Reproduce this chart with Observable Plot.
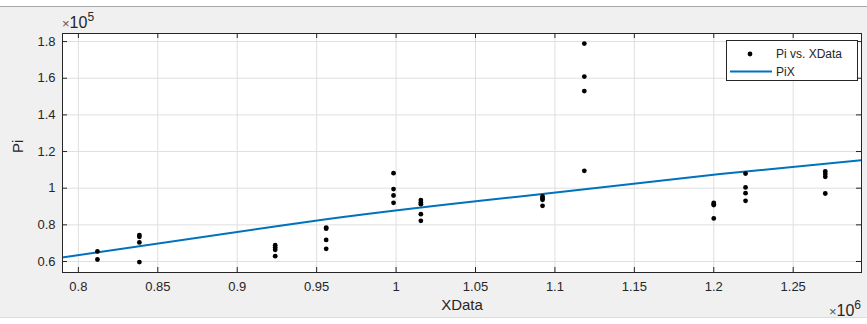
<!DOCTYPE html>
<html><head><meta charset="utf-8">
<script src="https://cdn.jsdelivr.net/npm/d3@7"></script>
<script src="https://cdn.jsdelivr.net/npm/@observablehq/plot@0.6"></script>
<style>
html,body{margin:0;padding:0;background:#fff;width:867px;height:324px;overflow:hidden}
#bg{position:absolute;left:0;top:6px;width:867px;height:312px;background:#f0f0f0;border-top:1px solid #a8a8a8;border-bottom:1px solid #dcdcdc;box-sizing:border-box}
#chart{position:absolute;left:0;top:0}
</style></head><body><div id="bg"></div><div id="chart"></div>
<script>
// XData (x 10^6) and Pi (x 10^5)
const xData = [
  0.812, 0.812,
  0.8384, 0.8384, 0.8384, 0.8384,
  0.9239, 0.9239, 0.9239, 0.9239,
  0.956, 0.956, 0.956, 0.956,
  0.9984, 0.9984, 0.9984, 0.9984,
  1.0156, 1.0156, 1.0156, 1.0156, 1.0156,
  1.0922, 1.0922, 1.0922, 1.0922,
  1.1185, 1.1185, 1.1185, 1.1185,
  1.2, 1.2, 1.2, 1.2,
  1.22, 1.22, 1.22, 1.22,
  1.2702, 1.2702, 1.2702, 1.2702
];
const piData = [
  0.655, 0.611,
  0.744, 0.735, 0.704, 0.597,
  0.689, 0.676, 0.664, 0.629,
  0.785, 0.779, 0.718, 0.669,
  1.082, 0.995, 0.960, 0.920,
  0.935, 0.922, 0.913, 0.858, 0.822,
  0.955, 0.944, 0.937, 0.904,
  1.789, 1.609, 1.530, 1.095,
  0.920, 0.913, 0.908, 0.835,
  1.080, 1.004, 0.973, 0.931,
  1.091, 1.077, 1.062, 0.971
];
// fitted curve PiX
const fitX = [0.7897, 0.927, 0.9459, 1.053, 1.078, 1.204, 1.2929];
const fitY = [0.6218, 0.7948, 0.8182, 0.9311, 0.9546, 1.0768, 1.1532];
const xTicks = [0.8, 0.85, 0.9, 0.95, 1, 1.05, 1.1, 1.15, 1.2, 1.25];
const yTicks = [0.6, 0.8, 1, 1.2, 1.4, 1.6, 1.8];
const legendLabels = ["Pi vs. XData", "PiX"];

const points = xData.map((x, i) => ({x, y: piData[i]}));
const fit = fitX.map((x, i) => ({x, y: fitY[i]}));

const W = 867, H = 324, mL = 62, mR = 6, mT = 33, mB = 52;
const innerW = W - mL - mR, innerH = H - mT - mB;
const axisColor = "#262626";
const font = "'Liberation Sans', Arial, sans-serif";

const chart = Plot.plot({
  width: W, height: H,
  marginLeft: mL, marginRight: mR, marginTop: mT, marginBottom: mB,
  style: {background: "transparent", fontFamily: font, fontSize: "13px", color: axisColor},
  x: {domain: [0.79, 1.293]},
  y: {domain: [0.54, 1.844]},
  marks: [
    Plot.frame({fill: "white", stroke: "none"}),
    Plot.gridX(xTicks, {stroke: "#dfdfdf", strokeOpacity: 1}),
    Plot.gridY(yTicks, {stroke: "#dfdfdf", strokeOpacity: 1}),
    Plot.ruleX(xTicks, {x: d => d, insetTop: innerH - 5, stroke: axisColor}),
    Plot.ruleX(xTicks, {x: d => d, insetBottom: innerH - 5, stroke: axisColor}),
    Plot.ruleY(yTicks, {y: d => d, insetRight: innerW - 5, stroke: axisColor}),
    Plot.ruleY(yTicks, {y: d => d, insetLeft: innerW - 5, stroke: axisColor}),
    Plot.line(fit, {x: "x", y: "y", stroke: "#0072BD", strokeWidth: 2, curve: "monotone-x", clip: true}),
    Plot.dot(points, {x: "x", y: "y", r: 2.4, fill: "black", stroke: "none"}),
    Plot.frame({stroke: axisColor}),
    Plot.axisX(xTicks, {tickSize: 0, tickPadding: 9, tickFormat: d => String(d), label: null, fontSize: 13}),
    Plot.axisY(yTicks, {tickSize: 0, tickPadding: 7, tickFormat: d => String(d), label: null, fontSize: 13}),
    Plot.text(["XData"], {frameAnchor: "bottom", dy: 37, fontSize: 15, fill: axisColor}),
    Plot.text(["Pi"], {frameAnchor: "left", dx: -44, rotate: -90, fontSize: 15, fill: axisColor})
  ]
});
document.getElementById("chart").append(chart);

const svg = d3.select(chart);
// exponent labels
function expLabel(x, y, exp, anchor) {
  const t = svg.append("text").attr("x", x).attr("y", y).attr("text-anchor", anchor)
    .attr("fill", axisColor).attr("font-family", font).attr("font-size", 16);
  t.append("tspan").attr("font-size", 13).attr("fill", "#555").text("\u00d7");
  t.append("tspan").text("10");
  t.append("tspan").attr("font-size", 12).attr("dy", -7).text(exp);
}
expLabel(62, 28, "5", "start");
expLabel(861, 316, "6", "end");

// legend
const lg = svg.append("g").attr("font-family", font).attr("font-size", 12).attr("fill", axisColor).attr("text-anchor", "start");
lg.append("rect").attr("x", 726.5).attr("y", 40.5).attr("width", 131).attr("height", 40).attr("fill", "white").attr("stroke", axisColor).attr("stroke-width", 1);
lg.append("circle").attr("cx", 750).attr("cy", 54).attr("r", 2.4).attr("fill", "black");
lg.append("text").attr("x", 776).attr("y", 54).attr("dy", "0.35em").attr("text-anchor", "start").text(legendLabels[0]);
lg.append("line").attr("x1", 730).attr("x2", 772).attr("y1", 71.5).attr("y2", 71.5).attr("stroke", "#0072BD").attr("stroke-width", 2);
lg.append("text").attr("x", 776).attr("y", 71.5).attr("dy", "0.35em").attr("text-anchor", "start").text(legendLabels[1]);
</script>
</body></html>
